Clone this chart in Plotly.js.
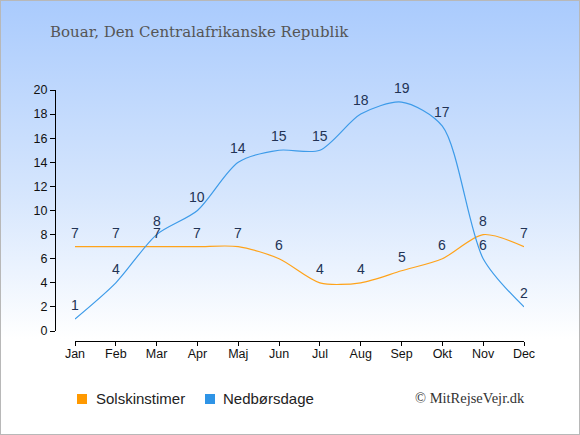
<!DOCTYPE html>
<html>
<head>
<meta charset="utf-8">
<script src="https://cdn.plot.ly/plotly-3.0.1.min.js"></script>
<style>
html,body{margin:0;padding:0;}
#wrap{width:578px;height:433px;border:1px solid #b8b8b8;background:linear-gradient(to bottom,#aacbfd 0%,#d6e6fd 45%,#ffffff 78%,#ffffff 100%);}
#chart{width:578px;height:433px;}
</style>
</head>
<body>
<div id="wrap"><div id="chart"></div></div>
<script>
var months = ["Jan","Feb","Mar","Apr","Maj","Jun","Jul","Aug","Sep","Okt","Nov","Dec"];
var sunHours = [7,7,7,7,7,6,4,4,5,6,8,7];
var rainDays = [1,4,8,10,14,15,15,18,19,17,6,2];
var seriesNames = ["Solskinstimer","Nedbørsdage"];
var seriesColors = ["#ffa31a","#3d9be9"];
var legendColors = ["#ff9900","#2f94e6"];
var yTicks = [0,2,4,6,8,10,12,14,16,18,20];

var idx = months.map(function(m,i){return i;});
var W = 578, H = 433;
var mL = 54, mR = 55, mT = 89, mB = 93;
var pw = W - mL - mR, ph = H - mT - mB;
function px2x(p){ return (p - 1 - mL) / pw; }
function py2y(p){ return (H - mB - (p - 1)) / ph; }

var sans = "Liberation Sans, Arial, sans-serif";
var labelFont = {family:sans, size:14, color:"#223355"};

var traces = [
  {x: idx, y: sunHours, mode: "lines", line: {color:seriesColors[0], width:1.2, shape:"spline", smoothing:0.8},
   showlegend:false, hoverinfo:"none"},
  {x: idx, y: rainDays, mode: "lines", line: {color:seriesColors[1], width:1.2, shape:"spline", smoothing:0.8},
   showlegend:false, hoverinfo:"none"}
];

var annotations = [];
[sunHours, rainDays].forEach(function(series){
  series.forEach(function(v,i){
    annotations.push({x:i, y:v, xref:"x", yref:"y", text:String(v), showarrow:false,
      xanchor:"center", yanchor:"middle", yshift:14, font:labelFont});
  });
});

var shapes = [];
var legendSquareX = [82, 210];
var legendTextX = [94, 221];
seriesNames.forEach(function(name,k){
  shapes.push({type:"rect", xref:"paper", yref:"paper", xsizemode:"pixel", ysizemode:"pixel",
    xanchor: px2x(legendSquareX[k]), yanchor: py2y(399), x0:-5, x1:5, y0:-5, y1:5,
    fillcolor: legendColors[k], line:{width:0}});
  annotations.push({text:name, xref:"paper", yref:"paper", showarrow:false,
    x: px2x(legendTextX[k]), xanchor:"left", y: py2y(398), yanchor:"middle",
    font:{family:sans, size:15, color:"#222"}});
});
annotations.push({text:"© MitRejseVejr.dk", xref:"paper", yref:"paper", showarrow:false,
  x: px2x(527), xanchor:"right", y: py2y(398), yanchor:"middle",
  font:{family:"Liberation Serif, DejaVu Serif, serif", size:14.5, color:"#333"}});

var layout = {
  width: W, height: H,
  paper_bgcolor: "rgba(0,0,0,0)", plot_bgcolor: "rgba(0,0,0,0)",
  margin: {l:mL, r:mR, t:mT, b:mB, pad:0},
  title: {text:"Bouar, Den Centralafrikanske Republik", xref:"container", yref:"container",
          x: 49/W, xanchor:"left", y: 1 - 31/H, yanchor:"middle",
          font:{family:"DejaVu Serif, Liberation Serif, serif", size:15, color:"#555555"}},
  xaxis: {domain:[20/pw, 1], range:[0,11], anchor:"free", position:0,
          tickmode:"array", tickvals: idx, ticktext: months,
          showline:true, linecolor:"#000", linewidth:1.3, ticks:"outside", ticklen:4, tickcolor:"#000",
          ticklabelstandoff:-3,
          showgrid:false, zeroline:false, fixedrange:true,
          tickfont:{family:sans, size:12.5, color:"#111"}},
  yaxis: {domain:[10/ph, 1], range:[0,20], anchor:"free", position:0,
          tickmode:"array", tickvals: yTicks,
          showline:true, linecolor:"#000", linewidth:1.3, ticks:"outside", ticklen:5, tickcolor:"#000",
          showgrid:false, zeroline:false, fixedrange:true,
          tickfont:{family:sans, size:12.5, color:"#111"}},
  showlegend: false,
  shapes: shapes,
  annotations: annotations
};

Plotly.newPlot("chart", traces, layout, {displayModeBar:false, staticPlot:true});
</script>
</body>
</html>
